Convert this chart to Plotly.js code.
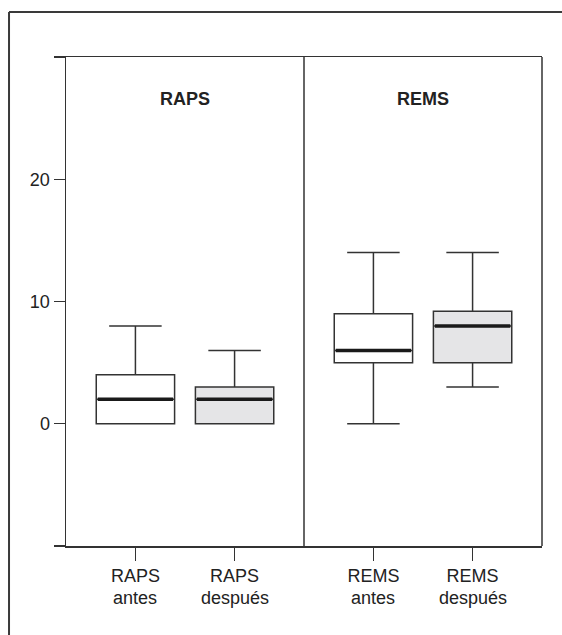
<!DOCTYPE html>
<html>
<head>
<meta charset="utf-8">
<script src="https://cdn.plot.ly/plotly-3.0.1.min.js"></script>
<style>
html,body{margin:0;padding:0;background:#fff;}
#chart{width:562px;height:635px;}
</style>
</head>
<body>
<div id="chart"></div>
<script>
// ---- data ----
const groups = ['RAPS', 'REMS'];
const categories = ['RAPS antes', 'RAPS después', 'REMS antes', 'REMS después'];
const labelLine1 = ['RAPS', 'RAPS', 'REMS', 'REMS'];
const labelLine2 = ['antes', 'después', 'antes', 'después'];
const groupOfCategory = ['RAPS', 'RAPS', 'REMS', 'REMS'];
const lowerWhisker = [0, 0, 0, 3];
const q1 = [0, 0, 5, 5];
const median = [2, 2, 6, 8];
const q3 = [4, 3, 9, 9.2];
const upperWhisker = [8, 6, 14, 14];
const yTickValues = [-10, 0, 10, 20, 30];
const yTickLabels = ['', '0', '10', '20', ''];

// ---- styling ----
const lineColor = '#333333';
const fills = ['#ffffff', '#e5e5e7', '#ffffff', '#e5e5e7'];
const font = 'Liberation Sans, Arial, Helvetica, sans-serif';

const axisOf = i => (groupOfCategory[i] === groups[0] ? 'x' : 'x2');

const traces = [];
categories.forEach((c, i) => {
  const xa = axisOf(i);
  traces.push({
    type: 'box', x: [c], q1: [q1[i]], median: [median[i]], q3: [q3[i]],
    lowerfence: [lowerWhisker[i]], upperfence: [upperWhisker[i]],
    xaxis: xa, yaxis: 'y', width: 0.79, whiskerwidth: 0.67,
    fillcolor: fills[i], line: {color: lineColor, width: 1.5},
    boxpoints: false, hoverinfo: 'skip', showlegend: false
  });
  // thick median bar
  traces.push({
    type: 'box', x: [c], q1: [median[i]], median: [median[i]], q3: [median[i]],
    lowerfence: [median[i]], upperfence: [median[i]],
    xaxis: xa, yaxis: 'y', width: 0.76, whiskerwidth: 0,
    fillcolor: 'rgba(0,0,0,0)', line: {color: '#1a1a1a', width: 3.5},
    boxpoints: false, hoverinfo: 'skip', showlegend: false
  });
});

function xAxis(domain, idx) {
  return {
    type: 'category', range: [-0.7, 1.7], domain: domain,
    showgrid: false, zeroline: false,
    showline: true, mirror: true, linecolor: lineColor, linewidth: 1.5,
    ticks: 'outside', ticklen: 13, tickwidth: 1.2, tickcolor: lineColor,
    tickvals: idx.map(i => categories[i]), ticktext: idx.map(i => labelLine1[i]),
    tickfont: {family: font, size: 18, color: '#222'}, anchor: 'y', fixedrange: true
  };
}
const idxA = categories.map((c, i) => i).filter(i => axisOf(i) === 'x');
const idxB = categories.map((c, i) => i).filter(i => axisOf(i) === 'x2');

const annotations = groups.map((g, i) => ({
  text: '<b>' + g + '</b>', xref: 'paper', yref: 'paper',
  x: 0.25 + 0.5 * i, y: 0.914, xanchor: 'center', yanchor: 'middle',
  showarrow: false, font: {family: font, size: 18, color: '#222'}
}));
categories.forEach((c, i) => {
  annotations.push({
    text: labelLine2[i], xref: axisOf(i), yref: 'paper', x: c, y: -0.1063,
    xanchor: 'center', yanchor: 'middle', showarrow: false,
    font: {family: font, size: 18, color: '#222'}
  });
});

const layout = {
  width: 562, height: 635,
  margin: {l: 66, r: 20, t: 57, b: 89},
  paper_bgcolor: '#fff', plot_bgcolor: '#fff',
  boxmode: 'overlay', showlegend: false,
  font: {family: font, color: '#222'},
  xaxis: xAxis([0, 0.5], idxA),
  xaxis2: xAxis([0.5, 1], idxB),
  yaxis: {
    range: [-10, 30], tickvals: yTickValues, ticktext: yTickLabels,
    showgrid: false, zeroline: false, showline: true, mirror: false,
    linecolor: lineColor, linewidth: 1.5, ticks: 'outside', ticklen: 11,
    tickwidth: 1.2, tickcolor: lineColor, anchor: 'x',
    tickfont: {family: font, size: 18, color: '#222'}, fixedrange: true
  },
  annotations: annotations,
  shapes: [
    {type: 'line', xref: 'paper', yref: 'paper', x0: 0.5, x1: 0.5, y0: 0, y1: 1,
     line: {color: lineColor, width: 1.5}},
    {type: 'line', xref: 'paper', yref: 'paper', x0: 1, x1: 1, y0: 0, y1: 1,
     line: {color: lineColor, width: 1.5}},
    {type: 'line', xref: 'paper', yref: 'paper', x0: -0.1197, x1: 1.1, y0: 1.092, y1: 1.092,
     line: {color: '#3a3a3a', width: 2}},
    {type: 'line', xref: 'paper', yref: 'paper', x0: -0.1197, x1: -0.1197, y0: 1.092, y1: -0.2,
     line: {color: '#3a3a3a', width: 2}}
  ]
};

Plotly.newPlot('chart', traces, layout, {staticPlot: true, displayModeBar: false});
</script>
</body>
</html>
